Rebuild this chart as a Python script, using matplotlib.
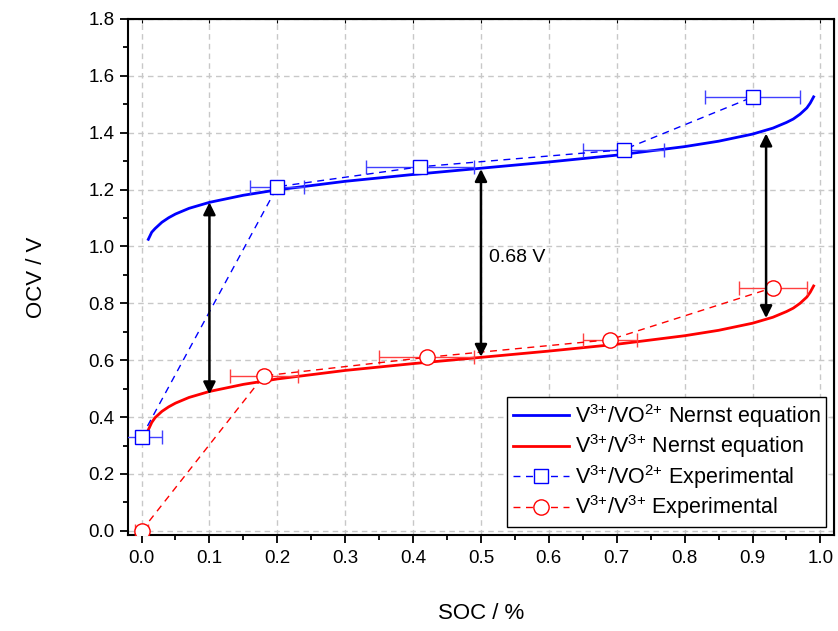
import matplotlib.pyplot as plt
from matplotlib.ticker import MultipleLocator

plt.rcParams['font.family'] = ['Liberation Sans', 'DejaVu Sans']
plt.rcParams['mathtext.fontset'] = 'custom'
plt.rcParams['mathtext.rm'] = 'Liberation Sans'
plt.rcParams['mathtext.it'] = 'Liberation Sans'

# Nernst curves
soc_n = [0.01, 0.015, 0.02, 0.03, 0.04, 0.05, 0.07, 0.1, 0.15, 0.2, 0.3, 0.4, 0.5,
         0.6, 0.7, 0.8, 0.85, 0.9, 0.93, 0.95, 0.96, 0.97, 0.98, 0.985, 0.99]
ocv_blue_n = [1.025, 1.050, 1.063, 1.085, 1.101, 1.114, 1.134, 1.155, 1.180, 1.199,
              1.229, 1.253, 1.275, 1.297, 1.321, 1.351, 1.370, 1.395, 1.416, 1.436,
              1.448, 1.465, 1.487, 1.504, 1.526]
ocv_red_n = [0.355, 0.381, 0.398, 0.420, 0.436, 0.449, 0.469, 0.490, 0.515, 0.534,
             0.564, 0.588, 0.610, 0.632, 0.656, 0.686, 0.705, 0.730, 0.751, 0.771,
             0.783, 0.800, 0.822, 0.839, 0.861]

# experimental points
soc_blue = [0.0, 0.2, 0.41, 0.71, 0.9]
ocv_blue = [0.33, 1.21, 1.28, 1.34, 1.525]
err_blue = [0.03, 0.04, 0.08, 0.06, 0.07]

soc_red = [0.0, 0.18, 0.42, 0.69, 0.93]
ocv_red = [0.0, 0.545, 0.61, 0.672, 0.855]
err_red = [0.01, 0.05, 0.07, 0.04, 0.05]

# potential gaps
gap_x = [0.1, 0.5, 0.92]
gap_lo = [0.48, 0.612, 0.748]
gap_hi = [1.155, 1.272, 1.397]

fig = plt.figure(figsize=(8.38, 6.31), dpi=100)
ax = fig.add_axes([0.1527, 0.152, 0.8425, 0.818])

l1, = ax.plot(soc_n, ocv_blue_n, color='#0000ff', lw=2, zorder=3)
l2, = ax.plot(soc_n, ocv_red_n, color='#ff0000', lw=2, zorder=3)

eb1 = ax.errorbar(soc_blue, ocv_blue, xerr=err_blue, color='#0000ff', ls=(0, (5, 4)), lw=1,
                  marker='s', ms=10, mfc='white', mec='#0000ff', mew=1, capsize=5,
                  elinewidth=1, ecolor='#4040ff', zorder=4)
eb2 = ax.errorbar(soc_red, ocv_red, xerr=err_red, color='#ff0000', ls=(0, (5, 4)), lw=1,
                  marker='o', ms=11, mfc='white', mec='#ff0000', mew=1, capsize=5,
                  elinewidth=1, ecolor='#ff4040', zorder=4)

for x, lo, hi in zip(gap_x, gap_lo, gap_hi):
    ax.annotate('', xy=(x, hi), xytext=(x, lo),
                arrowprops=dict(arrowstyle='<|-|>', color='black', lw=1.8,
                                mutation_scale=18, shrinkA=0, shrinkB=0), zorder=5)
ax.text(0.512, 0.96, '0.68 V', fontsize=14, va='center', ha='left')

ax.set_xlim(-0.02, 1.02)
ax.set_ylim(-0.015, 1.8)
ax.xaxis.set_major_locator(MultipleLocator(0.1))
ax.xaxis.set_minor_locator(MultipleLocator(0.05))
ax.yaxis.set_major_locator(MultipleLocator(0.2))
ax.yaxis.set_minor_locator(MultipleLocator(0.1))
ax.tick_params(which='both', direction='out', top=False, right=False, width=1.3, labelsize=13.5)
ax.tick_params(which='major', length=6)
ax.tick_params(which='minor', length=3.5)
ax.tick_params(axis='x', pad=5)
for sp in ax.spines.values():
    sp.set_linewidth(1.5)
ax.grid(True, which='major', color='#c8c8c8', ls=(0, (4, 3)), lw=1)

# short inner ticks on the top and right frame
ax2 = ax.secondary_xaxis('top')
ax2.xaxis.set_major_locator(MultipleLocator(0.1))
ax2.tick_params(direction='in', length=3, labeltop=False)
ay2 = ax.secondary_yaxis('right')
ay2.yaxis.set_major_locator(MultipleLocator(0.2))
ay2.tick_params(direction='in', length=3, labelright=False)

ax.set_xlabel('SOC / %', fontsize=16, labelpad=26)
ax.set_ylabel('OCV / V', fontsize=16, labelpad=30)

labels = ['V$^{3{+}}$/VO$^{2{+}}$ Nernst equation',
          'V$^{3{+}}$/V$^{3{+}}$ Nernst equation',
          'V$^{3{+}}$/VO$^{2{+}}$ Experimental',
          'V$^{3{+}}$/V$^{3{+}}$ Experimental']
leg = ax.legend([l1, l2, eb1[0], eb2[0]], labels, loc='lower right',
                bbox_to_anchor=(0.989, 0.016), borderaxespad=0,
                fontsize=15.5, fancybox=False, edgecolor='black', framealpha=1,
                handlelength=2.6, labelspacing=0.12, borderpad=0.25, handletextpad=0.3)
leg.get_frame().set_linewidth(1)

fig.savefig('out.png', dpi=100)
